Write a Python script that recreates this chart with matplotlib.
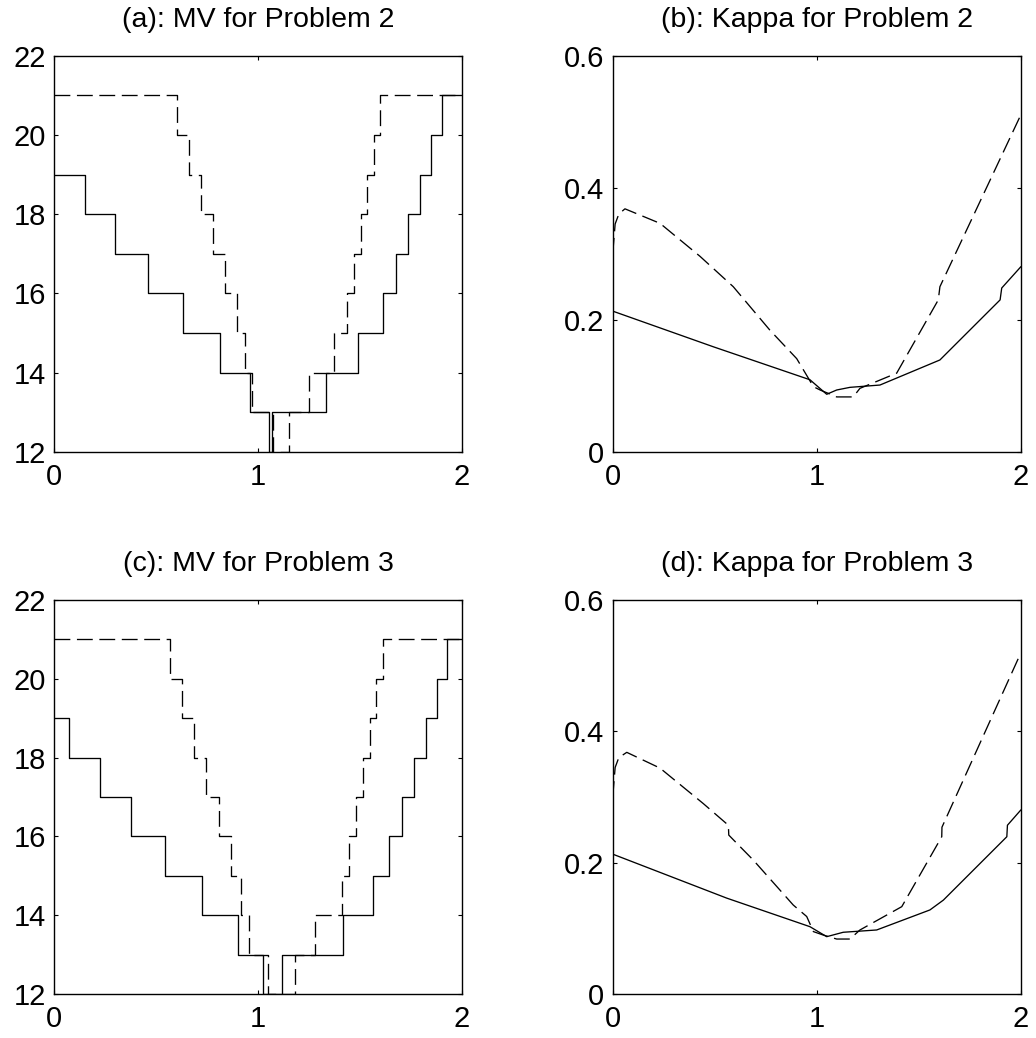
import matplotlib
matplotlib.use('Agg')
import matplotlib.pyplot as plt

plt.rcParams['font.family'] = ['Liberation Sans', 'DejaVu Sans']

# (a) MV for Problem 2 -- step breakpoints and levels
a_sol_x = [0, 0.152, 0.301, 0.459, 0.634, 0.814, 0.962, 1.052, 1.068, 1.333, 1.492, 1.611, 1.676, 1.737, 1.794, 1.848, 1.904, 2.0]
a_sol_y = [19, 18, 17, 16, 15, 14, 13, 12, 13, 14, 15, 16, 17, 18, 19, 20, 21, 21]
a_das_x = [0, 0.601, 0.660, 0.719, 0.778, 0.838, 0.895, 0.938, 0.969, 1.075, 1.152, 1.252, 1.373, 1.435, 1.471, 1.503, 1.534, 1.567, 1.597, 2.0]
a_das_y = [21, 20, 19, 18, 17, 16, 15, 14, 13, 12, 13, 14, 15, 16, 17, 18, 19, 20, 21, 21]

# (c) MV for Problem 3
c_sol_x = [0, 0.075, 0.227, 0.377, 0.542, 0.724, 0.904, 1.026, 1.116, 1.418, 1.565, 1.644, 1.704, 1.765, 1.824, 1.877, 1.928, 2.0]
c_sol_y = [19, 18, 17, 16, 15, 14, 13, 12, 13, 14, 15, 16, 17, 18, 19, 20, 21, 21]
c_das_x = [0, 0.569, 0.627, 0.686, 0.745, 0.809, 0.866, 0.917, 0.956, 1.051, 1.181, 1.279, 1.410, 1.446, 1.480, 1.513, 1.549, 1.578, 1.611, 2.0]
c_das_y = [21, 20, 19, 18, 17, 16, 15, 14, 13, 12, 13, 14, 15, 16, 17, 18, 19, 20, 21, 21]

# (b) Kappa for Problem 2
b_sol_x = [0, 0.493, 0.967, 1.049, 1.098, 1.163, 1.310, 1.604, 1.899, 1.907, 2.0]
b_sol_y = [0.213, 0.159, 0.109, 0.087, 0.0935, 0.0975, 0.101, 0.139, 0.230, 0.248, 0.280]
b_das_x = [0, 0.012, 0.03, 0.06, 0.232, 0.428, 0.591, 0.771, 0.902, 0.984, 1.02, 1.06, 1.098, 1.179, 1.212, 1.392, 1.596, 1.604, 2.0]
b_das_y = [0.30, 0.345, 0.36, 0.368, 0.346, 0.296, 0.250, 0.184, 0.141, 0.0985, 0.093, 0.088, 0.083, 0.083, 0.096, 0.119, 0.230, 0.250, 0.510]

# (d) Kappa for Problem 3
d_sol_x = [0, 0.559, 0.967, 1.049, 1.130, 1.294, 1.555, 1.621, 1.932, 1.935, 2.0]
d_sol_y = [0.213, 0.146, 0.1025, 0.0873, 0.094, 0.0975, 0.128, 0.143, 0.2395, 0.257, 0.280]
d_das_x = [0, 0.012, 0.03, 0.069, 0.232, 0.444, 0.567, 0.569, 0.632, 0.689, 0.885, 0.951, 0.984, 1.03, 1.098, 1.163, 1.212, 1.417, 1.613, 1.614, 2.0]
d_das_y = [0.30, 0.345, 0.36, 0.368, 0.344, 0.290, 0.257, 0.242, 0.222, 0.204, 0.1355, 0.118, 0.095, 0.09, 0.0837, 0.0837, 0.0975, 0.133, 0.2395, 0.254, 0.519]

titles = ['(a): MV for Problem 2', '(b): Kappa for Problem 2',
          '(c): MV for Problem 3', '(d): Kappa for Problem 3']

fig = plt.figure(figsize=(10.36, 10.38), dpi=100)
W, H = 1036.0, 1038.0
boxes = [(54, 451.7, 408, 396), (612.7, 451.7, 408, 396),
         (54, 994, 408, 394), (612.7, 994, 408, 394)]
axs = [fig.add_axes([l / W, (H - b) / H, w / W, h / H]) for l, b, w, h in boxes]

dash = (0, (12, 5))
lw = 0.95

ax = axs[0]
ax.plot(a_sol_x, a_sol_y, drawstyle='steps-post', color='black', lw=lw)
ax.plot(a_das_x, a_das_y, drawstyle='steps-post', color='black', lw=lw, linestyle=dash)

ax = axs[2]
ax.plot(c_sol_x, c_sol_y, drawstyle='steps-post', color='black', lw=lw)
ax.plot(c_das_x, c_das_y, drawstyle='steps-post', color='black', lw=lw, linestyle=dash)

ax = axs[1]
ax.plot(b_sol_x, b_sol_y, color='black', lw=lw)
ax.plot(b_das_x, b_das_y, color='black', lw=lw, linestyle=dash)

ax = axs[3]
ax.plot(d_sol_x, d_sol_y, color='black', lw=lw)
ax.plot(d_das_x, d_das_y, color='black', lw=lw, linestyle=dash)

for i, ax in enumerate(axs):
    ax.set_xlim(0, 2)
    ax.set_xticks([0, 1, 2])
    if i in (0, 2):
        ax.set_ylim(12, 22)
        ax.set_yticks([12, 14, 16, 18, 20, 22])
    else:
        ax.set_ylim(0, 0.6)
        ax.set_yticks([0, 0.2, 0.4, 0.6])
        ax.set_yticklabels(['0', '0.2', '0.4', '0.6'])
    ax.tick_params(direction='in', length=3, width=0.8, top=True, right=True,
                   labelsize=21)
    ax.tick_params(axis='x', pad=8)
    ax.tick_params(axis='y', pad=6)
    for s in ax.spines.values():
        s.set_linewidth(1.0)
    ax.set_title(titles[i], fontsize=20.5, pad=21)

fig.savefig('out.png', dpi=100)
